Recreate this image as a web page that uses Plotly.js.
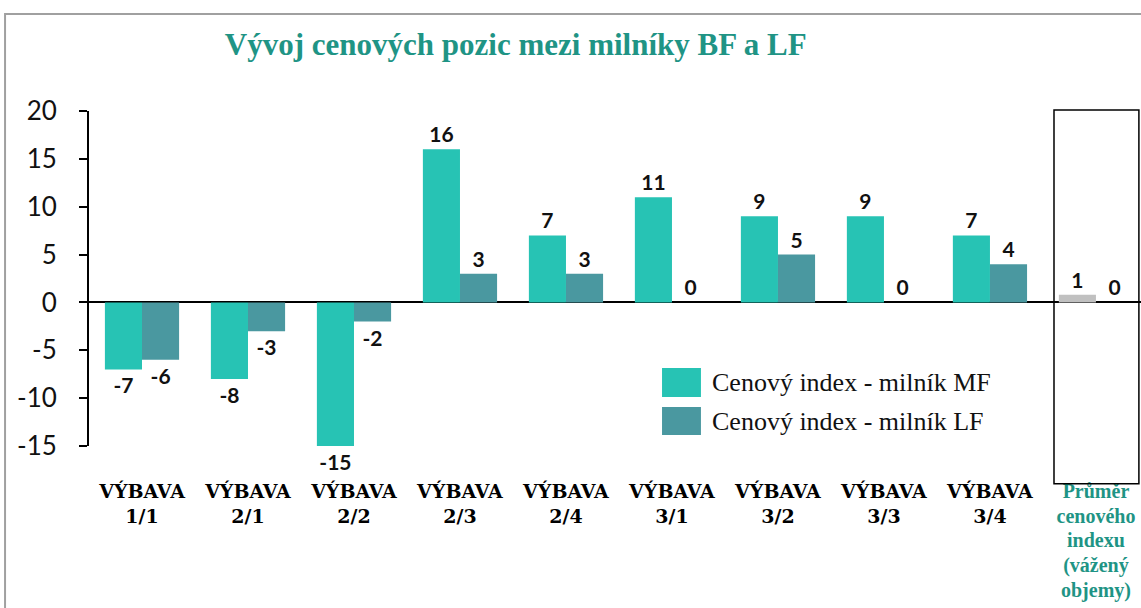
<!DOCTYPE html>
<html>
<head>
<meta charset="utf-8">
<script src="https://cdn.plot.ly/plotly-3.0.1.min.js"></script>
<style>html,body{margin:0;padding:0;background:#fff;}#chart{width:1141px;height:608px;}</style>
</head>
<body>
<div id="chart"></div>
<script>
const categories = ["VÝBAVA<br>1/1","VÝBAVA<br>2/1","VÝBAVA<br>2/2","VÝBAVA<br>2/3","VÝBAVA<br>2/4","VÝBAVA<br>3/1","VÝBAVA<br>3/2","VÝBAVA<br>3/3","VÝBAVA<br>3/4","Průměr<br>cenového<br>indexu<br>(vážený<br>objemy)"];
const mfValues = [-7, -8, -15, 16, 7, 11, 9, 9, 7, 0.8];
const lfValues = [-6, -3, -2, 3, 3, 0, 5, 0, 4, 0];
const seriesNames = ["Cenový index - milník MF", "Cenový index - milník LF"];
const yTicks = [-15, -10, -5, 0, 5, 10, 15, 20];

const MF_COLOR = "#27c3b4";
const LF_COLOR = "#4a98a0";
const AVG_COLOR = "#c0c0c0";
const TEAL_TEXT = "#1f9485";

const xIdx = categories.map((c, i) => i);
const lastStyle = 'color:' + TEAL_TEXT + ';font-size:20px;font-family:Liberation Serif,serif';
const tickText = categories.map((c, i) => i === categories.length - 1
  ? c.split("<br>").map(s => '<span style="' + lastStyle + '">' + s + '</span>').join("<br>") : c);
const mfColors = categories.map((c, i) => i === categories.length - 1 ? AVG_COLOR : MF_COLOR);

const labelFont = {family: "Lato, 'Open Sans', sans-serif", size: 21, color: "#111", weight: 700};

const traces = [
  {type: "bar", name: seriesNames[0], x: xIdx, y: mfValues, marker: {color: mfColors},
   text: mfValues.map(v => String(Math.round(v))), textposition: "outside", texttemplate: "<b>%{text}</b>",
   textfont: labelFont, cliponaxis: false, hoverinfo: "y"},
  {type: "bar", name: seriesNames[1], x: xIdx, y: lfValues, marker: {color: LF_COLOR},
   text: lfValues.map(v => String(Math.round(v))), textposition: "outside", texttemplate: "<b>%{text}</b>",
   textfont: labelFont, cliponaxis: false, hoverinfo: "y"}
];

const layout = {
  width: 1141, height: 608,
  margin: {l: 89, r: 0, t: 111, b: 162},
  paper_bgcolor: "#fff", plot_bgcolor: "#fff",
  showlegend: false,
  barmode: "group", bargap: 0.3, bargroupgap: 0,
  title: {text: "<b>Vývoj cenových pozic mezi milníky BF a LF</b>",
    font: {family: "'Liberation Serif', 'Times New Roman', serif", size: 31, color: TEAL_TEXT},
    x: 0.452, xanchor: "center", y: 0.928, yanchor: "middle", xref: "container", yref: "container"},
  xaxis: {range: [-0.5, 9.425], tickmode: "array", tickvals: xIdx, ticktext: tickText,
    showline: false, ticks: "", showgrid: false, zeroline: false, ticklabelstandoff: 32,
    ticklabeloverflow: "allow",
    tickfont: {family: "'DejaVu Serif', serif", size: 19, color: "#000", weight: "bold"},
    fixedrange: true},
  yaxis: {range: [-15, 20], tickmode: "array", tickvals: yTicks, ticktext: yTicks.map(String),
    showline: true, linecolor: "#000", linewidth: 2,
    ticks: "outside", ticklen: 8, tickwidth: 2, tickcolor: "#000", showgrid: false,
    zeroline: true, zerolinecolor: "#000", zerolinewidth: 2, ticklabelstandoff: 17,
    tickfont: {family: "Lato, 'Open Sans', sans-serif", size: 26, color: "#111"}, fixedrange: true},
  shapes: [
    {type: "rect", xref: "paper", yref: "paper", x0: -0.0798, x1: 1.02, y0: -0.6, y1: 1.2896,
     line: {color: "#a0a0a0", width: 2}, fillcolor: "rgba(0,0,0,0)", layer: "below"},
    {type: "rect", xref: "paper", yref: "paper", x0: 0.9173, x1: 0.998, y0: -0.113, y1: 1.003,
     line: {color: "#000", width: 1.5}, fillcolor: "rgba(0,0,0,0)"},
    {type: "rect", xref: "paper", yref: "paper", x0: 0.5447, x1: 0.5817, y0: 0.1463, y1: 0.2328,
     line: {width: 0}, fillcolor: MF_COLOR},
    {type: "rect", xref: "paper", yref: "paper", x0: 0.5447, x1: 0.5817, y0: 0.0328, y1: 0.1164,
     line: {width: 0}, fillcolor: LF_COLOR}
  ],
  annotations: [
    {xref: "paper", yref: "paper", x: 0.5903, y: 0.191, xanchor: "left", yanchor: "middle", showarrow: false,
     text: seriesNames[0], font: {family: "'Liberation Serif', 'Times New Roman', serif", size: 26, color: "#111"}},
    {xref: "paper", yref: "paper", x: 0.5903, y: 0.0746, xanchor: "left", yanchor: "middle", showarrow: false,
     text: seriesNames[1], font: {family: "'Liberation Serif', 'Times New Roman', serif", size: 26, color: "#111"}}
  ]
};

Plotly.newPlot("chart", traces, layout, {displayModeBar: false, staticPlot: true});
</script>
</body>
</html>
